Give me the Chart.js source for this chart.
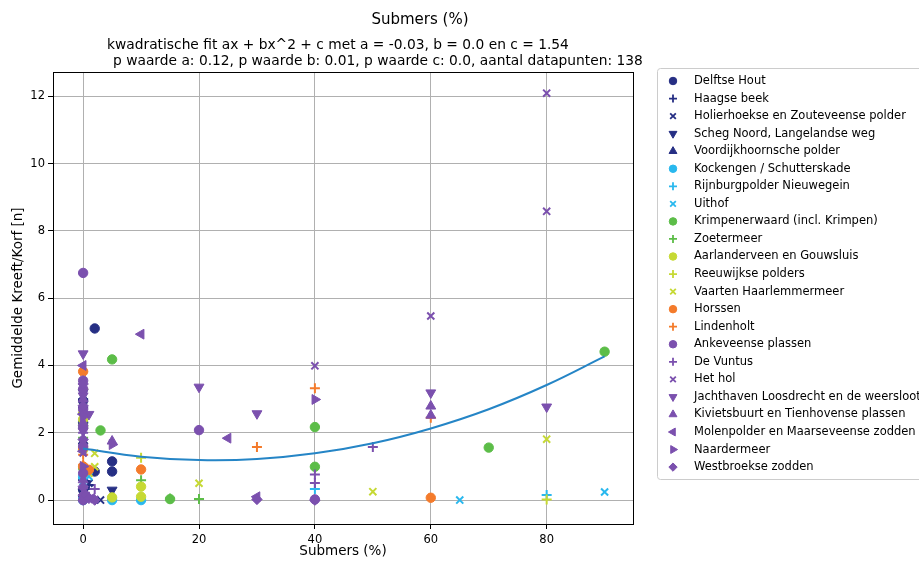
<!DOCTYPE html>
<html>
<head>
<meta charset="utf-8">
<script src="https://cdn.jsdelivr.net/npm/chart.js@4.4.1/dist/chart.umd.min.js"></script>
<style>
  html, body { margin: 0; padding: 0; background: #fff; overflow: hidden; }
</style>
</head>
<body>
<canvas id="myChart" width="919" height="561"></canvas>
<script>
// points per location: [submers %, gemiddelde kreeft/korf]
const delftseHout = [[0, 2.95], [0, 2.3], [0, 0.3], [2, 5.1], [5, 1.15], [5, 0.85], [2, 0.85]];
const haagseBeek = [[0, 3.0], [0, 2.75], [0, 0.6], [0, 0.1], [1, 0.45]];
const holierhoekse = [[0, 2.85], [0, 0.05], [3, 0.0], [1, 0.5]];
const schegNoord = [[0, 3.2], [0, 2.5], [0, 0.25], [5, 0.3]];
const voordijkhoornsche = [[0, 2.65], [0, 1.75], [0, 0.4]];
const kockengen = [[0, 0.7], [0, 0.0], [5, 0.0], [10, 0.0]];
const rijnburgpolder = [[0, 0.65], [0, 0.05], [40, 0.33], [80, 0.15]];
const uithof = [[0, 0.75], [0, 0.55], [1, 0.7], [65, 0.0], [90, 0.24]];
const krimpenerwaard = [[0, 2.2], [0, 0.95], [3, 2.07], [5, 4.18], [15, 0.03], [40, 2.17], [40, 0.99], [70, 1.56], [90, 4.41]];
const zoetermeer = [[0, 1.85], [0, 0.0], [10, 0.59], [15, 0.05], [20, 0.03]];
const aarlanderveen = [[0, 2.4], [0, 1.5], [5, 0.08], [10, 0.4], [10, 0.1]];
const reeuwijkse = [[0, 2.6], [0, 3.3], [10, 1.26], [80, 0.02]];
const vaarten = [[0, 1.7], [0, 0.85], [1, 0.8], [2, 1.39], [2, 0.99], [20, 0.5], [50, 0.25], [80, 1.81]];
const horssen = [[0, 3.82], [0, 1.55], [0, 1.0], [1, 0.9], [10, 0.91], [60, 0.07]];
const lindenholt = [[0, 1.35], [0, 1.05], [30, 1.58], [40, 3.32], [60, 2.45]];
const ankeveense = [[0, 6.75], [0, 3.55], [0, 3.3], [0, 2.7], [0, 2.15], [0, 1.6], [0, 0.8], [0, 0.0], [20, 2.08], [40, 0.02]];
const deVuntus = [[0, 2.0], [0, 0.35], [1, 0.1], [2, 0.33], [40, 0.76], [40, 0.51], [50, 1.58]];
const hetHol = [[0, 1.4], [0, 0.25], [2, 0.02], [40, 3.99], [60, 5.47], [80, 8.58], [80, 12.09]];
const jachthaven = [[0, 4.35], [0, 3.1], [0, 2.05], [1, 2.55], [20, 3.36], [30, 2.57], [60, 3.19], [80, 2.77]];
const kivietsbuurt = [[0, 3.0], [0, 2.3], [0, 0.6], [5, 1.75], [60, 2.79], [60, 2.52]];
const molenpolder = [[0, 4.0], [0, 2.55], [0, 1.45], [1.5, 0.05], [10, 4.93], [25, 1.84], [30, 0.1]];
const naardermeer = [[0, 2.5], [0, 1.0], [5, 1.65], [40, 2.99]];
const westbroekse = [[0, 3.45], [0, 2.8], [0, 1.8], [0, 0.4], [0, 0.15], [0, 0.0], [0.5, 0.15], [1, 0.05], [2, 0.0], [30, 0.02], [40, 0.0]];

const seriesNames = [
    'Delftse Hout', 'Haagse beek', 'Holierhoekse en Zouteveense polder', 'Scheg Noord, Langelandse weg',
    'Voordijkhoornsche polder', 'Kockengen / Schutterskade', 'Rijnburgpolder Nieuwegein', 'Uithof',
    'Krimpenerwaard (incl. Krimpen)', 'Zoetermeer', 'Aarlanderveen en Gouwsluis', 'Reeuwijkse polders',
    'Vaarten Haarlemmermeer', 'Horssen', 'Lindenholt', 'Ankeveense plassen', 'De Vuntus', 'Het hol',
    'Jachthaven Loosdrecht en de weersloot', 'Kivietsbuurt en Tienhovense plassen',
    'Molenpolder en Maarseveense zodden', 'Naardermeer', 'Westbroekse zodden'
];
const seriesValues = [
    delftseHout, haagseBeek, holierhoekse, schegNoord, voordijkhoornsche, kockengen, rijnburgpolder, uithof,
    krimpenerwaard, zoetermeer, aarlanderveen, reeuwijkse, vaarten, horssen, lindenholt, ankeveense, deVuntus,
    hetHol, jachthaven, kivietsbuurt, molenpolder, naardermeer, westbroekse
];

// quadratic fit
const fitX = [0, 10, 20, 30, 40, 50, 60, 70, 80, 90];
const fitY = [1.53, 1.29, 1.19, 1.22, 1.39, 1.69, 2.13, 2.70, 3.42, 4.27];

const xTicks = [0, 20, 40, 60, 80];
const yTicks = [0, 2, 4, 6, 8, 10, 12];

// styles
const navy = '#262f84', cyan = '#29b8ee', green = '#5cbd48', yellow = '#c6d934', orange = '#f47b2b', purple = '#7b50ae';
const seriesColors = [navy, navy, navy, navy, navy, cyan, cyan, cyan, green, green, yellow, yellow, yellow,
    orange, orange, purple, purple, purple, purple, purple, purple, purple, purple];
const seriesMarkers = ['o', '+', 'x', 'v', '^', 'o', '+', 'x', 'o', '+', 'o', '+', 'x', 'o', '+', 'o', '+', 'x', 'v', '^', '<', '>', 'D'];

const markerStyles = {
    'o': { pointStyle: 'circle', rotation: 0, radius: 4.7, border: 1 },
    '+': { pointStyle: 'cross', rotation: 0, radius: 5, border: 2 },
    'x': { pointStyle: 'crossRot', rotation: 0, radius: 5, border: 2 },
    'v': { pointStyle: 'triangle', rotation: 180, radius: 5.7, border: 1 },
    '^': { pointStyle: 'triangle', rotation: 0, radius: 5.7, border: 1 },
    '<': { pointStyle: 'triangle', rotation: 270, radius: 5.7, border: 1 },
    '>': { pointStyle: 'triangle', rotation: 90, radius: 5.7, border: 1 },
    'D': { pointStyle: 'rectRot', rotation: 0, radius: 5.2, border: 1 }
};

const FONT = 'DejaVu Sans';

const datasets = seriesNames.map((name, i) => {
    const m = markerStyles[seriesMarkers[i]];
    return {
        type: 'scatter',
        label: name,
        data: seriesValues[i].map(p => ({ x: p[0], y: p[1] })),
        pointStyle: m.pointStyle,
        pointRotation: m.rotation,
        pointRadius: m.radius,
        pointHoverRadius: m.radius,
        pointBorderWidth: m.border,
        backgroundColor: seriesColors[i],
        borderColor: seriesColors[i],
        order: 100 - i
    };
});

datasets.push({
    type: 'line',
    label: 'fit',
    data: fitX.map((x, i) => ({ x: x, y: fitY[i] })),
    borderColor: '#2585c6',
    borderWidth: 2,
    pointRadius: 0,
    tension: 0.4,
    fill: false,
    order: 0
});

const titlePlugin = {
    id: 'titles',
    afterDraw(chart) {
        const ctx = chart.ctx;
        ctx.save();
        ctx.fillStyle = '#000';
        ctx.textBaseline = 'middle';
        ctx.font = '15px "' + FONT + '"';
        ctx.textAlign = 'center';
        ctx.fillText('Submers (%)', 420, 20);
        ctx.font = '13.8px "' + FONT + '"';
        ctx.textAlign = 'left';
        ctx.fillText('kwadratische fit ax + bx^2 + c met a = -0.03, b = 0.0 en c = 1.54', 107, 45);
        ctx.fillText('p waarde a: 0.12, p waarde b: 0.01, p waarde c: 0.0, aantal datapunten: 138', 113, 61);
        ctx.restore();
    }
};

const framePlugin = {
    id: 'frame',
    afterDatasetsDraw(chart) {
        const a = chart.chartArea, ctx = chart.ctx;
        ctx.save();
        ctx.strokeStyle = '#000';
        ctx.lineWidth = 1;
        ctx.strokeRect(Math.round(a.left) + 0.5, Math.round(a.top) + 0.5,
            Math.round(a.right - a.left), Math.round(a.bottom - a.top));
        ctx.restore();
    }
};

const legendPlugin = {
    id: 'boxLegend',
    afterDraw(chart) {
        const ctx = chart.ctx;
        ctx.save();
        ctx.strokeStyle = '#cccccc';
        ctx.lineWidth = 1;
        ctx.beginPath();
        ctx.roundRect(657.5, 68.5, 320, 411, 3);
        ctx.stroke();
        ctx.font = '11.5px "' + FONT + '"';
        ctx.textBaseline = 'middle';
        ctx.textAlign = 'left';
        seriesNames.forEach((name, i) => {
            const y = 81 + i * 17.55;
            const m = markerStyles[seriesMarkers[i]];
            ctx.fillStyle = seriesColors[i];
            ctx.strokeStyle = seriesColors[i];
            ctx.lineWidth = m.border === 2 ? 1.8 : 1;
            Chart.helpers.drawPoint(ctx, {
                pointStyle: m.pointStyle,
                rotation: m.rotation,
                radius: m.radius * 0.8,
                borderWidth: ctx.lineWidth
            }, 673, y);
            ctx.fillStyle = '#000';
            ctx.fillText(name, 694, y);
        });
        ctx.restore();
    }
};

const config = {
    type: 'scatter',
    data: { datasets: datasets },
    options: {
        responsive: false,
        animation: false,
        layout: { padding: { left: 0, right: 286, top: 72, bottom: 0 } },
        plugins: {
            legend: { display: false },
            tooltip: { enabled: false },
            title: { display: false }
        },
        scales: {
            x: {
                type: 'linear',
                min: -5.2,
                max: 94.9,
                afterBuildTicks: s => { s.ticks = xTicks.map(v => ({ value: v })); },
                afterFit: s => { s.height = 37; },
                grid: { color: '#b0b0b0', lineWidth: 1, tickColor: '#000', tickLength: 5, tickWidth: 1 },
                border: { display: false },
                ticks: { color: '#000', padding: 4, maxRotation: 0, font: { family: FONT, size: 11.5 } },
                title: { display: true, text: 'Submers (%)', color: '#000', padding: { top: 0, bottom: 1 }, font: { family: FONT, size: 13.5 } }
            },
            y: {
                type: 'linear',
                min: -0.71,
                max: 12.72,
                afterBuildTicks: s => { s.ticks = yTicks.map(v => ({ value: v })); },
                afterFit: s => { s.width = 53; },
                grid: { color: '#b0b0b0', lineWidth: 1, tickColor: '#000', tickLength: 5, tickWidth: 1 },
                border: { display: false },
                ticks: { color: '#000', padding: 3, font: { family: FONT, size: 11.5 } },
                title: { display: true, text: 'Gemiddelde Kreeft/Korf [n]', color: '#000', padding: { top: 10, bottom: 0 }, font: { family: FONT, size: 13.5 } }
            }
        }
    },
    plugins: [titlePlugin, framePlugin, legendPlugin]
};

const myChart = new Chart(document.getElementById('myChart'), config);
</script>
</body>
</html>
